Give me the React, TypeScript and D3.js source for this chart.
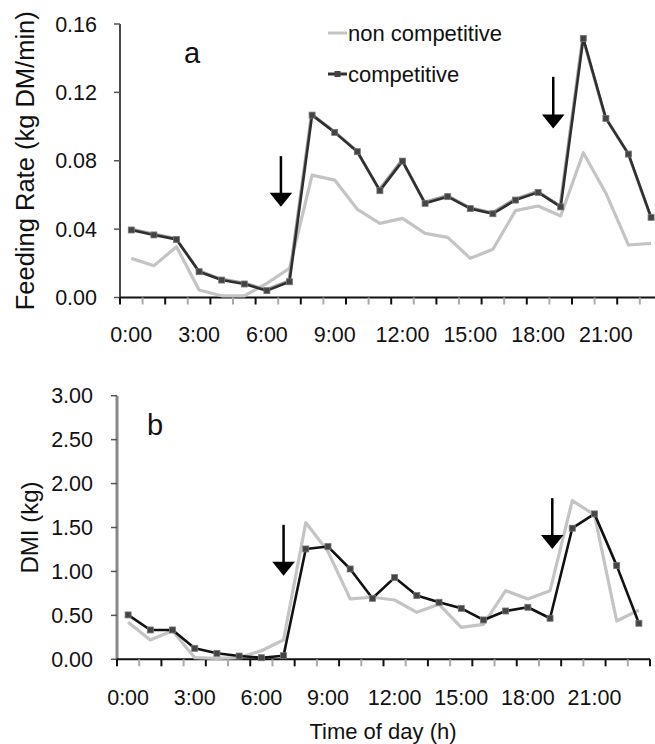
import React from "react";
import * as d3 from "d3";

const hours = [0, 1, 2, 3, 4, 5, 6, 7, 8, 9, 10, 11, 12, 13, 14, 15, 16, 17, 18, 19, 20, 21, 22, 23];

const rateNonCompetitive = [0.0229, 0.0186, 0.0297, 0.0044, 0.001, 0.001, 0.0083, 0.0171, 0.0716, 0.0687, 0.0516, 0.0434, 0.0463, 0.0375, 0.0352, 0.0229, 0.0282, 0.0508, 0.0535, 0.0477, 0.0847, 0.061, 0.0307, 0.0317];
const rateCompetitive = [0.0395, 0.0366, 0.034, 0.0151, 0.0102, 0.0079, 0.004, 0.0092, 0.1067, 0.0966, 0.0853, 0.0625, 0.0798, 0.0551, 0.059, 0.052, 0.049, 0.057, 0.0615, 0.053, 0.1516, 0.1048, 0.0839, 0.0469];

const dmiNonCompetitive = [0.421, 0.22, 0.326, 0.018, 0.01, 0.02, 0.098, 0.22, 1.556, 1.226, 0.687, 0.706, 0.675, 0.535, 0.626, 0.364, 0.398, 0.781, 0.687, 0.781, 1.806, 1.643, 0.436, 0.561];
const dmiCompetitive = [0.505, 0.334, 0.334, 0.125, 0.068, 0.037, 0.018, 0.041, 1.256, 1.283, 1.028, 0.694, 0.93, 0.725, 0.649, 0.58, 0.448, 0.55, 0.592, 0.467, 1.492, 1.655, 1.066, 0.41];

const xTickHours = [0, 3, 6, 9, 12, 15, 18, 21];
const xTickLabels = ["0:00", "3:00", "6:00", "9:00", "12:00", "15:00", "18:00", "21:00"];
const rateTicks = [0, 0.04, 0.08, 0.12, 0.16];
const rateTickLabels = ["0.00", "0.04", "0.08", "0.12", "0.16"];
const dmiTicks = [0, 0.5, 1, 1.5, 2, 2.5, 3];
const dmiTickLabels = ["0.00", "0.50", "1.00", "1.50", "2.00", "2.50", "3.00"];
const seriesNames = ["non competitive", "competitive"];

// arrows: [hour, tipValue, topValue]
const rateArrows = [[6.62, 0.0531, 0.0827], [18.67, 0.0989, 0.1291]];
const dmiArrows = [[7.0, 0.952, 1.53], [19.1, 1.256, 1.834]];

const FONT = "'Liberation Sans', Arial, sans-serif";
const TICK_FS = 21.5;

type PanelProps = {
  x0: number; x1: number; yBottom: number; yTop: number; yMax: number;
  ticks: number[]; tickLabels: string[]; nonComp: number[]; comp: number[];
  arrows: number[][]; yTitle: string; yTitleX: number; yTitleSize: number; letter: string; letterX: number; letterY: number;
  axisColor: string; axisWidth: number; labelBaseline: number; labelRight: number; top: boolean;
};

function Panel(p: PanelProps) {
  const x = d3.scaleLinear().domain([-0.5, 23.5]).range([p.x0, p.x1]);
  const y = d3.scaleLinear().domain([0, p.yMax]).range([p.yBottom, p.yTop]);
  const line = d3.line<number>().x((_, i) => x(hours[i])).y((d) => y(d));
  const boundaries = d3.range(25).map((k) => k - 0.5);
  const headHalf = 11.3;
  const headLen = 14;
  return (
    <g>
      {/* y axis */}
      <line x1={p.x0} x2={p.x0} y1={p.yTop} y2={p.yBottom} stroke={p.axisColor} strokeWidth={p.axisWidth} />
      {p.ticks.map((t, i) => (
        <g key={"yt" + i}>
          <line x1={p.x0 - 6} x2={p.x0} y1={y(t)} y2={y(t)} stroke="#555" strokeWidth={1.5} />
          <text x={p.labelRight} y={y(t)} dy="0.35em" textAnchor="end" fontSize={TICK_FS} fill="#111" fontFamily={FONT}>{p.tickLabels[i]}</text>
        </g>
      ))}
      {/* x axis */}
      <line x1={p.x0} x2={p.x1} y1={p.yBottom} y2={p.yBottom} stroke="#111" strokeWidth={2} />
      {boundaries.map((b, k) => (
        <line key={"xt" + k} x1={x(b)} x2={x(b)} y1={p.yBottom} y2={p.yBottom + 7} stroke={k % 2 === 0 ? "#111" : "#aaa"} strokeWidth={2} />
      ))}
      {xTickHours.map((h, i) => (
        <text key={"xl" + i} x={x(h)} y={p.labelBaseline} textAnchor="middle" fontSize={TICK_FS} fill="#111" fontFamily={FONT}>{xTickLabels[i]}</text>
      ))}
      {/* y title */}
      <text transform={`translate(${p.yTitleX},${(p.yTop + p.yBottom) / 2}) rotate(-90)`} textAnchor="middle" fontSize={p.yTitleSize} fill="#111" fontFamily={FONT}>{p.yTitle}</text>
      {/* letter */}
      <text x={p.letterX} y={p.letterY} textAnchor="middle" fontSize={29} fill="#111" fontFamily={FONT}>{p.letter}</text>
      {/* non competitive */}
      <path d={line(p.nonComp) || ""} fill="none" stroke="#c4c4c4" strokeWidth={3.2} strokeLinejoin="round" />
      {/* competitive */}
      {p.top && <path d={line(p.comp) || ""} fill="none" stroke="#a0a0a0" strokeWidth={3} transform="translate(-0.6,-1)" strokeLinejoin="round" />}
      <path d={line(p.comp) || ""} fill="none" stroke={p.top ? "#2f2f2f" : "#111"} strokeWidth={2.6} strokeLinejoin="round" />
      {p.comp.map((v, i) => (
        <rect key={"cm" + i} x={x(hours[i]) - 3} y={y(v) - 3} width={6} height={6} fill="#444" stroke="#777" strokeWidth={0.8} />
      ))}
      {/* arrows */}
      {p.arrows.map((a, i) => {
        const ax = x(a[0]);
        const tip = y(a[1]);
        const top = y(a[2]);
        return (
          <g key={"ar" + i}>
            <line x1={ax} x2={ax} y1={top} y2={tip - headLen + 1} stroke="#000" strokeWidth={2.5} />
            <path d={`M${ax - headHalf},${tip - headLen} L${ax + headHalf},${tip - headLen} L${ax},${tip} Z`} fill="#000" />
          </g>
        );
      })}
    </g>
  );
}

export default function App() {
  return (
    <svg width={655} height={744} style={{ position: "absolute", left: 0, top: 0, background: "#fff" }}>
      <rect x={0} y={0} width={655} height={744} fill="#fff" />
      <Panel x0={120} x1={662.4} yBottom={297.5} yTop={24} yMax={0.16}
        ticks={rateTicks} tickLabels={rateTickLabels} nonComp={rateNonCompetitive} comp={rateCompetitive}
        arrows={rateArrows} yTitle="Feeding Rate (kg DM/min)" yTitleX={34} yTitleSize={25.5} letter="a" letterX={192} letterY={63}
        axisColor="#333" axisWidth={1.8} labelBaseline={342} labelRight={97} top={true} />
      <Panel x0={117} x1={650} yBottom={659.3} yTop={395.7} yMax={3}
        ticks={dmiTicks} tickLabels={dmiTickLabels} nonComp={dmiNonCompetitive} comp={dmiCompetitive}
        arrows={dmiArrows} yTitle="DMI (kg)" yTitleX={38} yTitleSize={24} letter="b" letterX={155} letterY={435}
        axisColor="#888" axisWidth={3} labelBaseline={705} labelRight={93} top={false} />
      {/* legend */}
      <line x1={328} x2={347} y1={33} y2={33} stroke="#c4c4c4" strokeWidth={3} />
      <text x={348} y={33} dy="0.35em" fontSize={22} fill="#111" fontFamily={FONT}>{seriesNames[0]}</text>
      <line x1={328} x2={347} y1={74} y2={74} stroke="#2f2f2f" strokeWidth={3} />
      <rect x={334.5} y={71} width={6} height={6} fill="#444" />
      <text x={348} y={74} dy="0.35em" fontSize={22} fill="#111" fontFamily={FONT}>{seriesNames[1]}</text>
      {/* x title */}
      <text x={383} y={738.5} textAnchor="middle" fontSize={22} fill="#111" fontFamily={FONT}>Time of day (h)</text>
    </svg>
  );
}
